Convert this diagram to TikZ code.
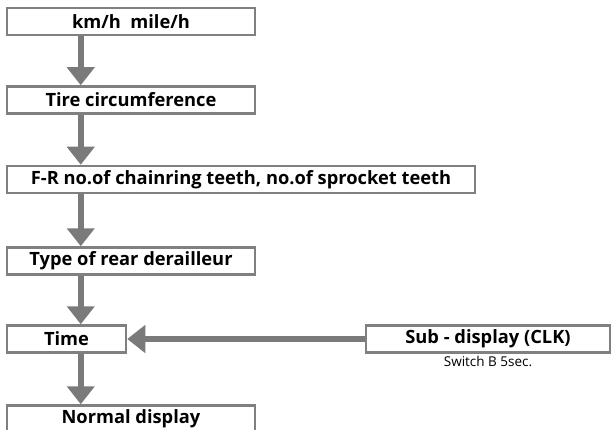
\documentclass[tikz,border=0pt]{standalone}
\usepackage{fontspec}
\setmainfont{Open Sans}
\usetikzlibrary{arrows.meta}
\definecolor{boxgray}{HTML}{808080}
\definecolor{arrgray}{HTML}{7A7A7A}
\begin{document}
\begin{tikzpicture}[x=1pt,y=-1pt,
  box/.style={draw=boxgray,line width=2.5pt,fill=white,minimum height=27pt,inner sep=0pt,
     font=\fontsize{18.3}{19}\selectfont\bfseries,text=black},
  arr/.style={draw=arrgray,line width=6pt,-{Triangle[width=27pt,length=18pt]}}]
\useasboundingbox (0,0) rectangle (612,430);
\clip (0,0) rectangle (612,430);
\fill[white] (0,0) rectangle (612,430);
\node[box,minimum width=248pt] (speed) at (131,21.5) {km/h\ \ mile/h};
\node[box,minimum width=248pt] (tire) at (131,100) {Tire circumference};
\node[box,minimum width=468pt] (gear) at (241,179.5) {F-R no.of chainring teeth, no.of sprocket teeth};
\node[box,minimum width=248pt] (rear) at (131,261) {Type of rear derailleur};
\node[box,minimum width=119pt] (time) at (66.5,339) {Time};
\node[box,minimum width=248pt] (normal) at (131,419) {Normal display};
\node[box,minimum width=244pt] (sub) at (488,339) {Sub - display (CLK)};
\node[font=\fontsize{13.5}{15}\selectfont,anchor=north,inner sep=2pt] (sw) at (sub.south) {Switch B 5sec.};
\draw[arr] ([xshift=75pt]speed.south west) -- ([xshift=75pt]tire.north west);
\draw[arr] ([xshift=75pt]tire.south west) -- ([xshift=75pt]gear.north west);
\draw[arr] ([xshift=75pt]gear.south west) -- ([xshift=75pt]rear.north west);
\draw[arr] ([xshift=75pt]rear.south west) -- ([xshift=75pt]time.north west);
\draw[arr] ([xshift=75pt]time.south west) -- ([xshift=75pt]normal.north west);
\draw[arr] (sub.west) -- (time.east);
\end{tikzpicture}
\end{document}
